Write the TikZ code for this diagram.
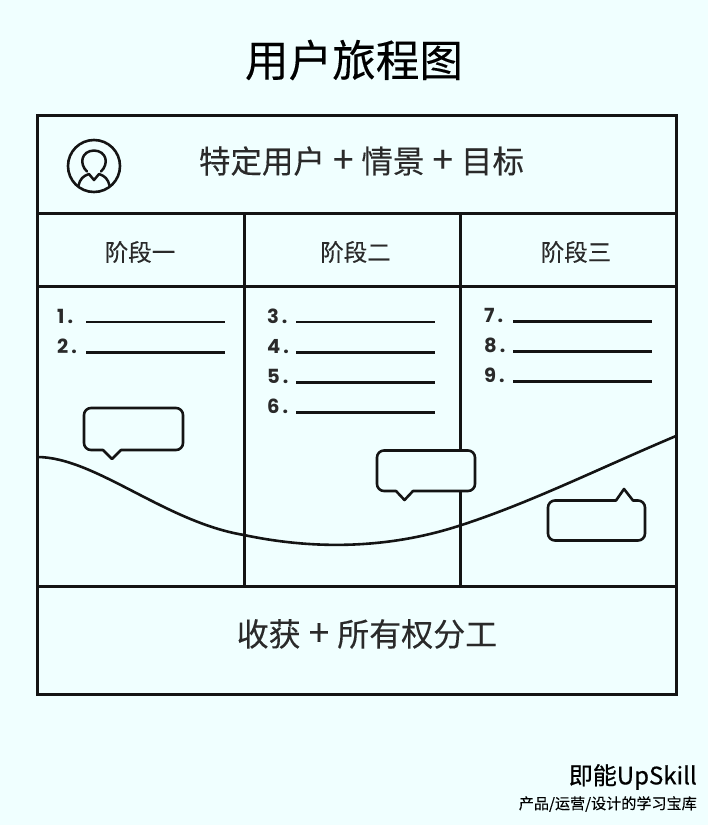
\documentclass[tikz,border=0pt]{standalone}
\usepackage{fontspec}
\setmainfont{Noto Sans CJK SC}
\newfontfamily\cjkf[FakeBold=0.25]{Noto Sans CJK SC}
\newfontfamily\brandf[FakeBold=0.6]{Noto Sans CJK SC}
\newfontfamily\numf{Poppins}
\definecolor{bgc}{HTML}{F0FFFF}
\definecolor{ink}{HTML}{141414}
\definecolor{soft}{HTML}{2A2A2A}
\tikzset{
 frameline/.style={draw=ink,line width=3pt},
 gridline/.style={draw=ink,line width=3pt},
 listrule/.style={draw=ink,line width=2.3pt},
 curveline/.style={draw=ink,line width=2.6pt},
 bubble/.style={draw=ink,line width=2.6pt,fill=bgc,line join=round},
 label/.style={inner sep=0pt,text=soft},
 num/.style={inner sep=0pt,anchor=west,text=soft,font=\numf\bfseries\fontsize{19.5}{20}\selectfont},
}
\newcommand{\bigplus}{\kern8pt{\fontsize{37}{37}\selectfont +}\kern8pt}
\newcommand{\listitem}[3]{%
 \node[num] (n#3) at (#1,#2) {#3\kern3pt.};
 \coordinate (la#3) at (#1+29,#2+6);
 \coordinate (lb#3) at (#1+168,#2+6);
 \draw[listrule] (la#3) -- (lb#3);
}
\begin{document}
\begin{tikzpicture}[x=1pt,y=-1pt]
\path[fill=bgc] (0,0) rectangle (708,825);
\useasboundingbox (0,0) rectangle (708,825);
\node[inner sep=0pt,text=black,font=\cjkf\fontsize{43.6}{44}\selectfont] (title) at (354,60) {用户旅程图};
% grid
\coordinate (tl) at (37,115); \coordinate (br) at (676,694);
\coordinate (l1) at (37,213); \coordinate (r1) at (676,213);
\coordinate (l2) at (37,286); \coordinate (r2) at (676,286);
\coordinate (l3) at (37,586); \coordinate (r3) at (676,586);
\coordinate (a1) at (244,213); \coordinate (a2) at (244,586);
\coordinate (b1) at (460,213); \coordinate (b2) at (460,586);
\draw[gridline] (a1) -- (a2);
\draw[gridline] (b1) -- (b2);
\draw[gridline] (l1) -- (r1);
\draw[gridline] (l2) -- (r2);
\draw[gridline] (l3) -- (r3);
\draw[frameline] (tl) rectangle (br);
% header
\node[label,font=\cjkf\fontsize{31.5}{32}\selectfont] (goal) at (361.5,161) {特定用户\bigplus{}情景\bigplus{}目标};
\node[label,font=\cjkf\fontsize{23.5}{24}\selectfont] (s1) at (140,252) {阶段一};
\node[label,font=\cjkf\fontsize{23.5}{24}\selectfont] (s2) at (355.5,252) {阶段二};
\node[label,font=\cjkf\fontsize{23.5}{24}\selectfont] (s3) at (576,252) {阶段三};
\node[label,font=\cjkf\fontsize{32}{32}\selectfont] (gain) at (367,634) {收获\bigplus{}所有权分工};
% user icon
\draw[draw=ink,line width=2.6pt] (94,166) circle (26);
\draw[draw=ink,line width=2.5pt,line cap=round,line join=round]
  (87,171.5) .. controls (79,164) and (81,151) .. (94,150.5)
  .. controls (107,151) and (109,164) .. (101,171.5);
\draw[draw=ink,line width=2.5pt,line cap=round,line join=round]
  (78.5,185.5) .. controls (80,179) and (83,176) .. (89,174) -- (94,180) -- (99,174)
  .. controls (105,176) and (108,179) .. (109.5,185.5);
% lists
\listitem{57}{316}{1}
\listitem{57}{346.5}{2}
\listitem{267}{316}{3}
\listitem{267}{346.5}{4}
\listitem{267}{376.5}{5}
\listitem{267}{406.5}{6}
\listitem{484}{315.5}{7}
\listitem{484}{345.5}{8}
\listitem{484}{375.5}{9}
% journey curve
\draw[curveline] (37,457) .. controls (95,457) and (165,522) .. (244,535)
  .. controls (310,549) and (385,550) .. (460,525.5)
  .. controls (530,503) and (600,468) .. (676,436);
% bubbles
\draw[bubble] (91,408) -- (176,408) arc[start angle=-90,end angle=0,radius=7] -- (183,443)
  arc[start angle=0,end angle=90,radius=7] -- (121,450) -- (112,459) -- (103,450) -- (91,450)
  arc[start angle=90,end angle=180,radius=7] -- (84,415) arc[start angle=180,end angle=270,radius=7] -- cycle;
\draw[bubble] (384,450.5) -- (468,450.5) arc[start angle=-90,end angle=0,radius=7] -- (475,484)
  arc[start angle=0,end angle=90,radius=7] -- (413,491) -- (404.5,500) -- (396,491) -- (384,491)
  arc[start angle=90,end angle=180,radius=7] -- (377,457.5) arc[start angle=180,end angle=270,radius=7] -- cycle;
\draw[bubble] (555,500.5) -- (616,500.5) -- (624,489) -- (633,500.5) -- (638,500.5) arc[start angle=-90,end angle=0,radius=7] -- (645,533.5)
  arc[start angle=0,end angle=90,radius=7] -- (555,540.5)
  arc[start angle=90,end angle=180,radius=7] -- (548,507.5) arc[start angle=180,end angle=270,radius=7] -- cycle;
% footer
\node[inner sep=0pt,anchor=east,text=black,font=\brandf\fontsize{24}{24}\selectfont] (brand) at (697,777) {即能UpSkill};
\node[inner sep=0pt,anchor=east,text=black,font=\cjkf\fontsize{15.1}{16}\selectfont] (sub) at (697,804) {产品/运营/设计的学习宝库};
\end{tikzpicture}
\end{document}
